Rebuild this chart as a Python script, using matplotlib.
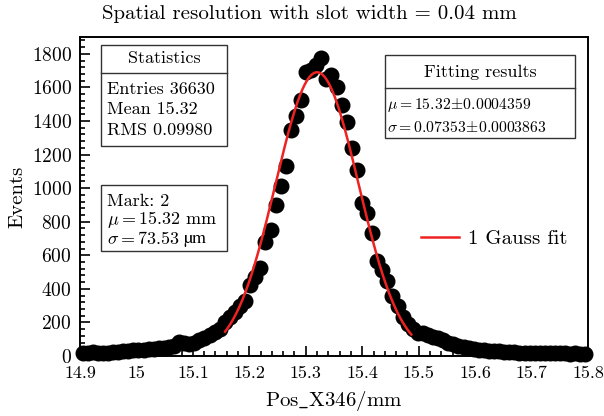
import numpy as np
import matplotlib
matplotlib.use("Agg")
import matplotlib.pyplot as plt
from matplotlib.ticker import MultipleLocator

plt.rcParams['font.family'] = ['cmr10', 'DejaVu Serif']
plt.rcParams['mathtext.fontset'] = 'cm'
plt.rcParams['axes.formatter.use_mathtext'] = True

# histogram: 100 bins from 14.9 to 15.8
x_min, x_max, n_bins = 14.9, 15.8, 100
counts = [
    20, 18, 22, 17, 15, 20, 22, 25, 28, 30,
    33, 35, 37, 40, 42, 45, 48, 52, 58, 85,
    80, 72, 80, 95, 110, 125, 140, 160, 200, 235,
    260, 295, 330, 420, 470, 525, 680, 750, 900, 1010,
    1130, 1345, 1430, 1525, 1690, 1705, 1735, 1775, 1650, 1675,
    1600, 1495, 1395, 1240, 1110, 910, 850, 730, 565, 515,
    445, 355, 295, 235, 190, 160, 135, 135, 125, 112,
    105, 95, 80, 70, 60, 52, 45, 40, 38, 35,
    32, 30, 28, 25, 22, 22, 20, 18, 20, 18,
    15, 18, 17, 15, 16, 15, 14, 15, 14, 13,
]

# gaussian fit parameters
fit_amp = 1690
fit_mu = 15.32
fit_sigma = 0.07353
fit_range = (15.157, 15.487)

xtick_vals = [14.9, 15.0, 15.1, 15.2, 15.3, 15.4, 15.5, 15.6, 15.7, 15.8]
xtick_labels = ['14.9', '15', '15.1', '15.2', '15.3', '15.4', '15.5', '15.6', '15.7', '15.8']
ytick_vals = [0, 200, 400, 600, 800, 1000, 1200, 1400, 1600, 1800]

stats_lines = ['Entries 36630', 'Mean 15.32', 'RMS 0.09980']
fit_lines = [r'$\mu = 15.32\!\pm\!0.0004359$', r'$\sigma = 0.07353\!\pm\!0.0003863$']
mark_lines = ['Mark: 2', r'$\mu = 15.32$ mm', r'$\sigma = 73.53$ ']

W, H = 604, 416
fig = plt.figure(figsize=(W / 100, H / 100), dpi=100)
ax = fig.add_axes([80 / W, 1 - 356 / H, 508 / W, 319 / H])

bin_w = (x_max - x_min) / n_bins
centers = x_min + bin_w * (np.arange(n_bins) + 0.5)
ax.plot(centers, counts, 'o', color='black', ms=10.5, clip_on=False, zorder=3)

xf = np.linspace(fit_range[0], fit_range[1], 300)
yf = fit_amp * np.exp(-0.5 * ((xf - fit_mu) / fit_sigma) ** 2)
ax.plot(xf, yf, color='#ee2222', lw=1.8, zorder=4, label='1 Gauss fit')

ax.set_xlim(x_min, x_max)
ax.set_ylim(0, 1900)
ax.set_xticks(xtick_vals)
ax.set_xticklabels(xtick_labels)
ax.set_yticks(ytick_vals)
ax.xaxis.set_minor_locator(MultipleLocator(0.02))
ax.yaxis.set_minor_locator(MultipleLocator(40))
ax.tick_params(which='both', direction='in', top=False, right=False, width=1.2)
ax.tick_params(which='major', length=7)
ax.tick_params(which='minor', length=3.5)
ax.tick_params(axis='x', pad=7, labelsize=13)
ax.tick_params(axis='y', pad=6, labelsize=14)
for s in ax.spines.values():
    s.set_linewidth(1.4)

ax.set_xlabel(r'Pos$\_$X346/mm', fontsize=15, labelpad=6)
ax.set_ylabel('Events', fontsize=15, labelpad=4)
fig.text(0.513, 1 - 14 / H, 'Spatial resolution with slot width = 0.04 mm',
         ha='center', va='center', fontsize=15)


def pbox(x0, y0, x1, y1):
    r = plt.Rectangle((x0 / W, 1 - y1 / H), (x1 - x0) / W, (y1 - y0) / H,
                      transform=fig.transFigure, fill=True, facecolor='white',
                      edgecolor='#333333', lw=1.0, zorder=5)
    fig.add_artist(r)


def hline(x0, x1, y):
    fig.add_artist(plt.Line2D([x0 / W, x1 / W], [1 - y / H, 1 - y / H],
                              transform=fig.transFigure, color='#333333', lw=1.0, zorder=6))


def ftext(x, y, s, ha='left', size=13, **kw):
    return fig.text(x / W, 1 - y / H, s, ha=ha, va='center', fontsize=size, zorder=7, **kw)


# statistics box
pbox(101, 45, 227, 146)
hline(101, 227, 72.5)
ftext(164, 58.5, 'Statistics', ha='center')
for k, s in enumerate(stats_lines):
    ftext(107, 89 + 20.5 * k, s)

# fitting results box
pbox(385, 55, 575, 138)
hline(385, 575, 88)
ftext(480, 72.5, 'Fitting results', ha='center')
for k, s in enumerate(fit_lines):
    ftext(387, 105 + 22 * k, s, size=11.3)

# mark box
pbox(101, 185, 227, 251)
last = None
for k, s in enumerate(mark_lines):
    last = ftext(107, 201 + 19 * k, s)
# micro sign is missing in cmr10, so draw the unit in STIX after the math text
fig.canvas.draw()
ext = last.get_window_extent(renderer=fig.canvas.get_renderer())
fig.text(ext.x1 / W + 3 / W, 1 - 239 / H, 'µm', ha='left', va='center',
         fontsize=13, family='STIXGeneral', zorder=7)

ax.legend(loc='center left', bbox_to_anchor=(411 / W, 1 - 239 / H),
          bbox_transform=fig.transFigure, frameon=False, fontsize=15,
          handlelength=1.8, handletextpad=0.45, borderpad=0)

fig.savefig('out.png', dpi=100)
